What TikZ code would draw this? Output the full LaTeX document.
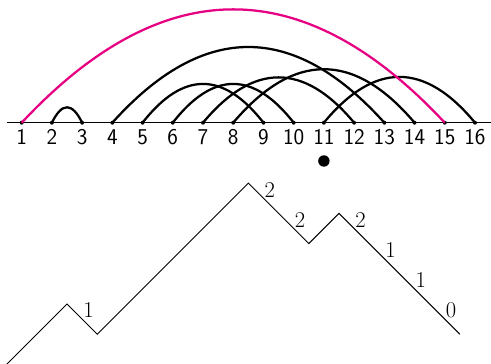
\documentclass[tikz,border=0pt]{standalone}
\usepackage{fontspec}
\usetikzlibrary{positioning}
\definecolor{arcpink}{RGB}{230,0,130}
\tikzset{
  pt/.style={circle, fill, inner sep=0pt, minimum size=3pt},
  numlbl/.style={inner sep=1pt, font=\fontsize{17}{20}\selectfont\sffamily},
  link/.style={line width=1.7pt},
  steplbl/.style={midway, above right, inner sep=0.5pt, font=\fontsize{17}{20}\selectfont},
}
\begin{document}
\begin{tikzpicture}[x=0.8cm,y=0.8cm]
\useasboundingbox (0.282,-7.985) rectangle (16.53,4.06);
% baseline with the sixteen points
\draw[line width=0.75pt] (0.5,0) -- (16.53,0);
\node[pt] (p1) at (1,0) {};
\node[pt] (p2) at (2,0) {};
\node[pt] (p3) at (3,0) {};
\node[pt] (p4) at (4,0) {};
\node[pt] (p5) at (5,0) {};
\node[pt] (p6) at (6,0) {};
\node[pt] (p7) at (7,0) {};
\node[pt] (p8) at (8,0) {};
\node[pt] (p9) at (9,0) {};
\node[pt] (p10) at (10,0) {};
\node[pt] (p11) at (11,0) {};
\node[pt] (p12) at (12,0) {};
\node[pt] (p13) at (13,0) {};
\node[pt] (p14) at (14,0) {};
\node[pt] (p15) at (15,0) {};
\node[pt] (p16) at (16,0) {};
\node[numlbl, below=2.2pt of p1] (n1) {1};
\node[numlbl, below=2.2pt of p2] (n2) {2};
\node[numlbl, below=2.2pt of p3] (n3) {3};
\node[numlbl, below=2.2pt of p4] (n4) {4};
\node[numlbl, below=2.2pt of p5] (n5) {5};
\node[numlbl, below=2.2pt of p6] (n6) {6};
\node[numlbl, below=2.2pt of p7] (n7) {7};
\node[numlbl, below=2.2pt of p8] (n8) {8};
\node[numlbl, below=2.2pt of p9] (n9) {9};
\node[numlbl, below=2.2pt of p10] (n10) {10};
\node[numlbl, below=2.2pt of p11] (n11) {11};
\node[numlbl, below=2.2pt of p12] (n12) {12};
\node[numlbl, below=2.2pt of p13] (n13) {13};
\node[numlbl, below=2.2pt of p14] (n14) {14};
\node[numlbl, below=2.2pt of p15] (n15) {15};
\node[numlbl, below=2.2pt of p16] (n16) {16};
\node[circle, fill, inner sep=0pt, minimum size=8.6pt] (marker) at (11,-1.267) {};
% arcs
\draw[link] (p2.center) .. controls +(0.333,0.68) and +(-0.333,0.68) .. (p3.center);
\draw[link] (p4.center) .. controls +(3,3.34) and +(-3,3.34) .. (p13.center);
\draw[link] (p5.center) .. controls +(1.333,1.71) and +(-1.333,1.71) .. (p9.center);
\draw[link] (p6.center) .. controls +(1.333,1.71) and +(-1.333,1.71) .. (p10.center);
\draw[link] (p7.center) .. controls +(1.667,2.0) and +(-1.667,2.0) .. (p12.center);
\draw[link] (p8.center) .. controls +(2,2.36) and +(-2,2.36) .. (p14.center);
\draw[link] (p11.center) .. controls +(1.667,2.02) and +(-1.667,2.02) .. (p16.center);
\draw[link, arcpink] (p1.center) .. controls +(4.667,5.0) and +(-4.667,5.0) .. (p15.center);
% lattice path
\draw[line width=0.75pt] (0.5,-8) -- ++(1,1) -- ++(1,1)
  -- ++(1,-1) node[steplbl] {1}
  -- ++(1,1) -- ++(1,1) -- ++(1,1) -- ++(1,1) -- ++(1,1)
  -- ++(1,-1) node[steplbl] {2}
  -- ++(1,-1) node[steplbl] {2}
  -- ++(1,1)
  -- ++(1,-1) node[steplbl] {2}
  -- ++(1,-1) node[steplbl] {1}
  -- ++(1,-1) node[steplbl] {1}
  -- ++(1,-1) node[steplbl] {0};
\end{tikzpicture}
\end{document}
